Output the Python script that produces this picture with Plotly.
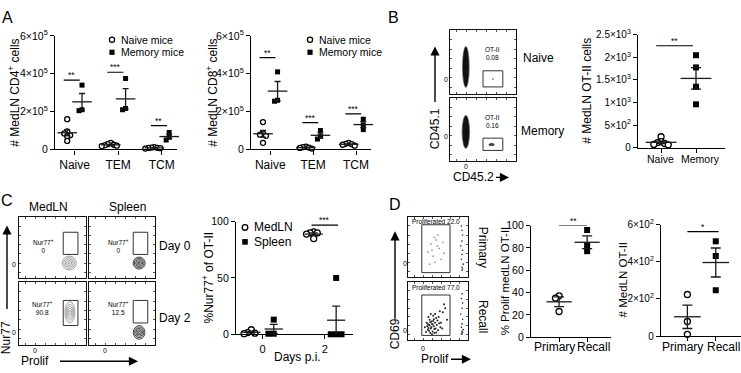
import numpy as np
import plotly.graph_objects as go

W, H = 741, 373
FONT = "Liberation Sans, Arial, Helvetica, sans-serif"

# ---------------- data ----------------
cats_A = ["Naive", "TEM", "TCM"]
# values in x10^3 cells
cd4_naive_mice = [[160, 95, 85, 75, 70, 45], [35, 28, 25, 22, 20, 18], [12, 10, 9, 8, 7, 5]]
cd4_memory_mice = [[340, 210, 205], [375, 217, 210], [90, 65, 50]]
cd8_naive_mice = [[145, 85, 78, 72, 35], [15, 12, 10, 8, 5], [35, 30, 28, 25, 20]]
cd8_memory_mice = [[410, 260, 255], [100, 70, 55], [160, 130, 105]]
A_ticks = [0, 200, 400, 600]
A_ticktext = ["0", "2×10<sup>5</sup>", "4×10<sup>5</sup>", "6×10<sup>5</sup>"]
A_sig = [["**", "***", "**"], ["**", "***", "***"]]
A_sig_level = [[366, 408, 126], [485, 142, 188]]

cats_B = ["Naive", "Memory"]
otii_naive = [240, 130, 110, 90, 70, 60]
otii_memory = [2050, 1780, 1350, 960]
B_ticks = [0, 500, 1000, 1500, 2000, 2500]
B_ticktext = ["0", "5×10<sup>2</sup>", "1×10<sup>3</sup>", "1.5×10<sup>3</sup>",
              "2×10<sup>3</sup>", "2.5×10<sup>3</sup>"]
B_gate_freq = ["0.08", "0.16"]

days_C = [0, 2]
nur77_medln = [[4, 1.5, 1, 0.5], [91, 90, 90, 89, 85]]
nur77_spleen = [[13, 0.5, 0.5], [50, 0, 0, 0]]
C_ticks = [0, 50, 100]
C_gate_freq = [["0", "0"], ["90.8", "12.5"]]

cats_D = ["Primary", "Recall"]
prolif_primary = [37, 35, 23]
prolif_recall = [96, 82, 77]
otii_primary_n = [224, 79, 10]
otii_recall_n = [510, 431, 247]
D1_ticks = [0, 20, 40, 60, 80, 100]
D2_ticks = [0, 200, 400, 600]
D2_ticktext = ["0", "2×10<sup>2</sup>", "4×10<sup>2</sup>", "6×10<sup>2</sup>"]
D_gate_freq = ["22.0", "77.0"]

# flow events (fraction of plot width / height)
B_cluster = [(0.24, 0.42, 0.045, 0.31), (0.24, 0.46, 0.05, 0.25)]  # cx, cy, rx, ry
D_prim_gate_x = [0.33, 0.38, 0.42, 0.47, 0.52, 0.55, 0.60, 0.45, 0.36, 0.50, 0.58, 0.40, 0.49, 0.44]
D_prim_gate_y = [0.42, 0.55, 0.35, 0.62, 0.48, 0.30, 0.40, 0.25, 0.22, 0.70, 0.58, 0.45, 0.52, 0.66]
D_prim_edge_x = [0.89, 0.90, 0.91, 0.90, 0.88, 0.91, 0.90, 0.89, 0.92, 0.90, 0.90, 0.91]
D_prim_edge_y = [0.85, 0.78, 0.70, 0.60, 0.52, 0.45, 0.38, 0.30, 0.22, 0.17, 0.12, 0.14]
D_rec_gate_x = [0.28, 0.31, 0.33, 0.35, 0.36, 0.38, 0.40, 0.41, 0.42, 0.43, 0.44, 0.45, 0.46, 0.47,
                0.48, 0.50, 0.52, 0.54, 0.30, 0.34, 0.37, 0.39, 0.42, 0.44, 0.47, 0.49, 0.36, 0.40,
                0.45, 0.33, 0.51, 0.55, 0.58, 0.62, 0.65, 0.60, 0.57, 0.53, 0.38, 0.43, 0.32, 0.35,
                0.39, 0.41, 0.37, 0.34]
D_rec_gate_y = [0.22, 0.30, 0.18, 0.26, 0.35, 0.20, 0.28, 0.15, 0.33, 0.24, 0.12, 0.30, 0.20, 0.38,
                0.26, 0.17, 0.29, 0.22, 0.14, 0.40, 0.12, 0.32, 0.42, 0.19, 0.13, 0.34, 0.25, 0.10,
                0.45, 0.28, 0.40, 0.30, 0.48, 0.55, 0.35, 0.62, 0.20, 0.50, 0.45, 0.36, 0.24, 0.16,
                0.22, 0.27, 0.31, 0.21]
D_rec_edge_x = [0.90, 0.89, 0.91, 0.90, 0.88, 0.91, 0.90, 0.89, 0.92, 0.90, 0.91, 0.89, 0.90]
D_rec_edge_y = [0.80, 0.72, 0.64, 0.55, 0.45, 0.36, 0.28, 0.22, 0.18, 0.15, 0.13, 0.11, 0.10]

# ---------------- helpers ----------------
layout = dict(width=W, height=H, margin=dict(l=0, r=0, t=0, b=0, pad=0),
              paper_bgcolor="white", plot_bgcolor="rgba(0,0,0,0)", showlegend=False,
              font=dict(family=FONT, color="black", size=12))
shapes, annos, traces = [], [], []
PANELS = {}


def px_x(p):
    return p / W


def px_y(p):
    return 1 - p / H


def ax_names(n):
    s = "" if n == 1 else str(n)
    return "xaxis" + s, "yaxis" + s, "x" + s, "y" + s


def scatter_axes(n, left, right, top, bottom, xr, yr, xticks, xtext, yticks, ytext,
                 yfont=10.5, xfont=12, show_xlabels=True):
    xa, ya, xref, yref = ax_names(n)
    common = dict(showline=True, linecolor="black", linewidth=1.3, ticks="outside",
                  ticklen=4, tickwidth=1.2, tickcolor="black", showgrid=False,
                  zeroline=False, fixedrange=True, tickmode="array")
    layout[xa] = dict(common, domain=[px_x(left), px_x(right)], anchor=yref, range=xr,
                      tickvals=xticks, ticktext=xtext, showticklabels=show_xlabels,
                      tickfont=dict(size=xfont, color="black"))
    layout[ya] = dict(common, domain=[px_y(bottom), px_y(top)], anchor=xref, range=yr,
                      tickvals=yticks, ticktext=ytext, tickfont=dict(size=yfont, color="black"))
    PANELS[n] = dict(xref=xref, yref=yref, ppx=(right - left) / (xr[1] - xr[0]),
                     ppy=(bottom - top) / (yr[1] - yr[0]))


def flow_axes(n, left, right, top, bottom):
    xa, ya, xref, yref = ax_names(n)
    common = dict(showline=True, linecolor="#111", linewidth=1, mirror="ticks", ticks="inside",
                  ticklen=2, tickwidth=0.7, tickcolor="#555", showticklabels=False,
                  showgrid=False, zeroline=False, range=[0, 1], fixedrange=True,
                  tickmode="array", tickvals=[0.1, 0.25, 0.4, 0.55, 0.7, 0.85])
    layout[xa] = dict(common, domain=[px_x(left), px_x(right)], anchor=yref)
    layout[ya] = dict(common, domain=[px_y(bottom), px_y(top)], anchor=xref)
    PANELS[n] = dict(xref=xref, yref=yref)


def swarm(vals, thr, step):
    order = sorted(range(len(vals)), key=lambda i: -vals[i])
    placed, offs = [], [0.0] * len(vals)
    for i in order:
        near = [s for v, s in placed if abs(v - vals[i]) < thr]
        for s in [0, -1, 1, -2, 2, -3, 3, -4, 4]:
            if s not in near:
                break
        placed.append((vals[i], s))
        offs[i] = s * step
    return offs


def group(n, xc, vals, filled, size, meanw, capw, spread=0.6):
    P = PANELS[n]
    offs = swarm(vals, thr=size * 0.8 / P["ppy"], step=size * spread / P["ppx"])
    traces.append(go.Scatter(
        x=[xc + o for o in offs], y=vals, mode="markers", xaxis=P["xref"], yaxis=P["yref"],
        cliponaxis=False, hoverinfo="skip",
        marker=dict(symbol="square" if filled else "circle", size=size,
                    color="black" if filled else "white",
                    line=dict(color="black", width=0 if filled else 1.3))))
    m = float(np.mean(vals))
    se = float(np.std(vals, ddof=1) / np.sqrt(len(vals)))
    traces.append(go.Scatter(
        x=[xc], y=[m], mode="markers", xaxis=P["xref"], yaxis=P["yref"], cliponaxis=False,
        hoverinfo="skip",
        marker=dict(symbol="line-ew", size=meanw, color="#1a1a1a",
                    line=dict(color="#1a1a1a", width=1.3)),
        error_y=dict(type="data", array=[se], color="#1a1a1a", thickness=1.3, width=capw)))


def sig(n, x0, x1, y, label, size=9):
    P = PANELS[n]
    shapes.append(dict(type="line", xref=P["xref"], yref=P["yref"], x0=x0, x1=x1, y0=y, y1=y,
                       line=dict(color="black", width=1.2)))
    annos.append(dict(text=label, xref=P["xref"], yref=P["yref"], x=(x0 + x1) / 2, y=y,
                      yanchor="bottom", showarrow=False, font=dict(size=size), yshift=-2))


def text(t, x, y, size=12, xanchor="center", yanchor="middle", angle=0, color="black"):
    annos.append(dict(text=t, xref="paper", yref="paper", x=px_x(x), y=px_y(y),
                      xanchor=xanchor, yanchor=yanchor, textangle=angle, showarrow=False,
                      font=dict(size=size, color=color), borderpad=0))


def arrow(hx, hy, ax, ay):
    annos.append(dict(text=" ", xref="paper", yref="paper", x=px_x(hx), y=px_y(hy), ax=ax,
                      ay=ay, showarrow=True, arrowhead=2, arrowsize=1.3, arrowwidth=1.4,
                      arrowcolor="black", standoff=0, startstandoff=0, font=dict(size=2)))


def legend_item(x, y, filled, label, size=10.5, r=2.6):
    shapes.append(dict(type="rect" if filled else "circle", xref="paper", yref="paper",
                       xsizemode="pixel", ysizemode="pixel", xanchor=px_x(x), yanchor=px_y(y),
                       x0=-r, x1=r, y0=-r, y1=r,
                       fillcolor="black" if filled else "white",
                       line=dict(color="black", width=0 if filled else 1.3)))
    text(label, x + 8, y, size=size, xanchor="left")


def gate(n, x0, x1, y0, y1):
    P = PANELS[n]
    shapes.append(dict(type="rect", xref=P["xref"], yref=P["yref"], x0=x0, x1=x1, y0=y0, y1=y1,
                       line=dict(color="#333", width=1)))


def rings(n, cx, cy, radii, color):
    P = PANELS[n]
    for rx, ry in radii:
        shapes.append(dict(type="circle", xref=P["xref"], yref=P["yref"], xsizemode="pixel",
                           ysizemode="pixel", xanchor=cx, yanchor=cy, x0=-rx, x1=rx,
                           y0=-ry, y1=ry, line=dict(color=color, width=0.9)))


def dots(n, xs, ys, color, size=2):
    P = PANELS[n]
    traces.append(go.Scatter(x=xs, y=ys, mode="markers", xaxis=P["xref"], yaxis=P["yref"],
                             hoverinfo="skip", marker=dict(size=size, color=color)))


# ---------------- Panel A ----------------
A_xr = [-0.45, 2.35]
A_off = 0.17
for n, (left, right), naive, memory, title, tx in [
        (1, (55, 177), cd4_naive_mice, cd4_memory_mice, "# MedLN CD4<sup>+</sup> cells", 14),
        (2, (251, 371), cd8_naive_mice, cd8_memory_mice, "# MedLN CD8<sup>+</sup> cells", 212)]:
    scatter_axes(n, left, right, 29, 147, A_xr, [0, 600], [0, 1, 2], cats_A, A_ticks,
                 A_ticktext, yfont=10.5, xfont=12)
    for i in range(3):
        group(n, i - A_off, naive[i], False, 5, 14, 3)
        group(n, i + A_off, memory[i], True, 5, 14, 3)
        sig(n, i - 0.25, i + 0.12, A_sig_level[n - 1][i], A_sig[n - 1][i], size=8.5)
    text(title, tx, 88, size=12, angle=-90)
legend_item(112, 33, False, "Naive mice")
legend_item(112, 46, True, "Memory mice")
legend_item(310, 33, False, "Naive mice")
legend_item(310, 46, True, "Memory mice")
text("A", 1, 0, size=16, xanchor="left", yanchor="top")

# ---------------- Panel B ----------------
text("B", 387, 0, size=16, xanchor="left", yanchor="top")
for k, (n, top, bottom) in enumerate([(3, 23, 89), (4, 93, 159)]):
    flow_axes(n, 450, 516, top, bottom)
    cx, cy, rx, ry = B_cluster[k]
    P = PANELS[n]
    shapes.append(dict(type="circle", xref=P["xref"], yref=P["yref"], x0=cx - rx * 1.3,
                       x1=cx + rx * 1.3, y0=cy - ry * 1.06, y1=cy + ry * 1.06,
                       fillcolor="#777", line=dict(width=0)))
    shapes.append(dict(type="circle", xref=P["xref"], yref=P["yref"], x0=cx - rx, x1=cx + rx,
                       y0=cy - ry, y1=cy + ry, fillcolor="#111", line=dict(width=0)))
    gy = (0.106, 0.36) if k == 0 else (0.167, 0.36)
    gate(n, 0.5, 0.8, gy[0], gy[1])
    blob = (0.65, 0.23, 1.2, 1.2, "#aaa") if k == 0 else (0.63, 0.26, 3, 1.6, "#444")
    shapes.append(dict(type="circle", xref=P["xref"], yref=P["yref"], xsizemode="pixel",
                       ysizemode="pixel", xanchor=blob[0], yanchor=blob[1], x0=-blob[2],
                       x1=blob[2], y0=-blob[3], y1=blob[3], fillcolor=blob[4],
                       line=dict(width=0)))
    text("OT-II<br>" + B_gate_freq[k], 492, top + 24.5, size=6.5)
text("0", 446, 74, size=7)
text("0", 446, 133, size=7)
text("0", 466, 165, size=7)
text("CD45.1", 435, 126, size=12, angle=-90)
arrow(435, 40, 0, 58)
text("CD45.2", 452, 176, size=12, xanchor="left")
arrow(509, 176, -15, 0)
text("Naive", 522, 52, size=12, xanchor="left")
text("Memory", 520, 128, size=12, xanchor="left")

scatter_axes(5, 638, 725, 28, 145, [-0.66, 1.83], [0, 2500], [0, 1], cats_B, B_ticks,
             B_ticktext, yfont=10, show_xlabels=False)
group(5, 0, otii_naive, False, 6, 22, 5)
group(5, 1, otii_memory, True, 6, 22, 5)
sig(5, -0.14, 0.91, 2260, "**", size=8.5)
text(cats_B[0], 660, 157, size=10.5)
text(cats_B[1], 700, 157, size=10.5)
text("# MedLN OT-II cells", 587, 86, size=12, angle=-90)

# ---------------- Panel C ----------------
text("C", 0, 190, size=16, xanchor="left", yanchor="top")
C_boxes = [(6, 19, 86, 217, 281), (7, 89, 155, 217, 281),
           (8, 19, 86, 285, 350), (9, 89, 155, 285, 350)]
for n, l, r, t, b in C_boxes:
    flow_axes(n, l, r, t, b)
gate(6, 0.66, 0.88, 0.39, 0.75)
gate(7, 0.67, 0.89, 0.39, 0.75)
gate(8, 0.66, 0.88, 0.31, 0.71)
gate(9, 0.67, 0.89, 0.35, 0.71)
rings(6, 0.75, 0.25, [(1, 1), (2.5, 2.5), (4, 4), (5.5, 5.5), (7, 7)], "#9a9a9a")
rings(7, 0.76, 0.25, [(1, 1), (2.2, 2.2), (3.5, 3.5), (4.8, 4.8), (6, 6)], "#2a2a2a")
rings(8, 0.76, 0.52, [(1, 1.8), (2, 4), (3, 6), (4, 8), (5, 10.5)], "#9a9a9a")
rings(9, 0.76, 0.2, [(1, 1.2), (2.2, 2.6), (3.4, 4), (4.6, 5.4), (5.8, 6.8)], "#2a2a2a")
for (row, col), (cx, cy) in zip([(0, 0), (0, 1), (1, 0), (1, 1)],
                                [(43, 247), (118, 247), (42, 312), (118, 312)]):
    text("Nur77<sup>+</sup><br>" + C_gate_freq[row][col], cx, cy, size=6.5)
text("MedLN", 48, 207, size=12)
text("Spleen", 127, 207, size=12)
text("Day 0", 158, 247, size=12, xanchor="left")
text("Day 2", 158, 322, size=12, xanchor="left")
for (x, y) in [(14, 266), (14, 337), (35, 356), (105, 356)]:
    text("0", x, y, size=7)
text("Nur77", 6, 343, size=12, angle=-90)
arrow(7, 226, 0, 86)
text("Prolif", 20, 367, size=12, xanchor="left")
arrow(138, 367, -80, 0)

scatter_axes(10, 236, 353, 222, 339, [-0.85, 2.9], [0, 100], days_C, [str(d) for d in days_C],
             C_ticks, [str(v) for v in C_ticks], yfont=10.5, xfont=11)
for i, d in enumerate(days_C):
    group(10, d - 0.36, nur77_medln[i], False, 6, 13, 4)
    group(10, d + 0.36, nur77_spleen[i], True, 6, 13, 4, spread=0.9)
sig(10, 1.57, 2.42, 97, "***", size=8.5)
legend_item(245, 228, False, "MedLN", size=12, r=2.8)
legend_item(245, 243, True, "Spleen", size=12, r=2.8)
text("%Nur77<sup>+</sup> of OT-II", 208, 280, size=12, angle=-90)
text("Days p.i.", 297, 363, size=12)

# ---------------- Panel D ----------------
text("D", 388, 194, size=16, xanchor="left", yanchor="top")
flow_axes(11, 408, 468, 217, 280)
flow_axes(12, 408, 468, 285, 345)
gate(11, 0.23, 0.70, 0.08, 0.87)
gate(12, 0.23, 0.70, 0.08, 0.78)
dots(11, D_prim_gate_x, D_prim_gate_y, "#9a9a9a", 1.8)
dots(11, D_prim_edge_x, D_prim_edge_y, "#222", 1.6)
dots(12, D_rec_gate_x, D_rec_gate_y, "#222", 2)
dots(12, D_rec_edge_x, D_rec_edge_y, "#222", 1.6)
text("Proliferated " + D_gate_freq[0], 411, 222, size=6.5, xanchor="left")
text("Proliferated " + D_gate_freq[1], 411, 290, size=6.5, xanchor="left")
text("Primary", 483, 248, size=12, angle=90)
text("Recall", 483, 320, size=12, angle=90)
for (x, y) in [(405, 265), (405, 335), (423, 354)]:
    text("0", x, y, size=7)
text("CD69", 395, 339, size=12, angle=-90)
arrow(395, 232, 0, 90)
text("Prolif", 420, 365, size=12, xanchor="left")
arrow(471, 365, -22, 0)

scatter_axes(13, 531, 611, 226, 342, [-1.0, 1.85], [0, 100], [0, 1], cats_D, D1_ticks,
             [str(v) for v in D1_ticks], yfont=10.5, show_xlabels=False)
group(13, 0, prolif_primary, False, 6, 18, 5)
group(13, 1, prolif_recall, True, 6, 18, 5)
sig(13, 0, 1, 100, "**", size=8.5)
text(cats_D[0], 554, 352, size=12)
text(cats_D[1], 593, 352, size=12)
text("% Prolif medLN OT-II", 505, 284, size=11.5, angle=-90)

scatter_axes(14, 661, 741, 225, 341, [-0.93, 1.89], [0, 600], [0, 1], cats_D, D2_ticks,
             D2_ticktext, yfont=10, show_xlabels=False)
group(14, 0, otii_primary_n, False, 6, 19, 5)
group(14, 1, otii_recall_n, True, 6, 19, 5)
sig(14, 0, 1.1, 562, "*", size=8.5)
text(cats_D[0], 682, 352, size=12)
text(cats_D[1], 740.5, 352, size=12, xanchor="right")
text("# MedLN OT-II", 623, 283, size=11.5, angle=-90)

layout["shapes"] = shapes
layout["annotations"] = annos
fig = go.Figure(data=traces, layout=layout)
fig.write_html("out.html", config={"displayModeBar": False},
               post_script="document.body.style.margin='0';document.body.style.padding='0';")
